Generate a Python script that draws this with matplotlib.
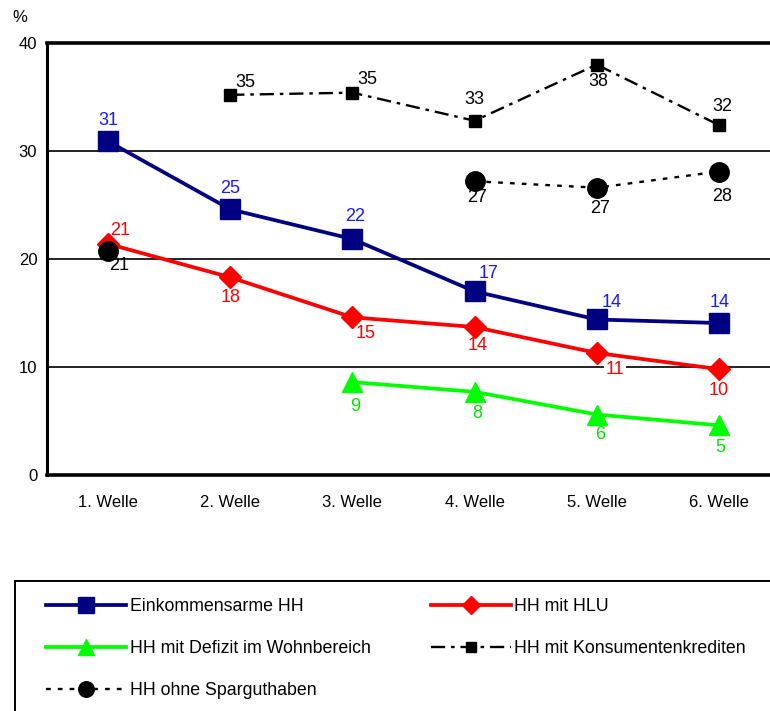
import numpy as np
import matplotlib
matplotlib.use("Agg")
import matplotlib.pyplot as plt
from matplotlib.patches import Rectangle

plt.rcParams['font.family'] = ['Liberation Sans', 'DejaVu Sans']

categories = ["1. Welle", "2. Welle", "3. Welle", "4. Welle", "5. Welle", "6. Welle"]
einkommensarm = [30.9, 24.6, 21.85, 17.0, 14.4, 14.07]
hlu = [21.4, 18.3, 14.6, 13.7, 11.3, 9.8]
defizit = [np.nan, np.nan, 8.6, 7.7, 5.6, 4.6]
konsum = [np.nan, 35.2, 35.4, 32.8, 38.0, 32.4]
spar = [20.7, np.nan, np.nan, 27.2, 26.6, 28.1]
yticks = [0, 10, 20, 30, 40]

W, H = 770, 711
fig = plt.figure(figsize=(W / 100, H / 100), dpi=100)
ax = fig.add_axes([47 / W, (H - 475) / H, (780 - 47) / W, (475 - 43) / H])

x = np.arange(len(categories))

series = [
    dict(y=einkommensarm, color="#000080", lw=2.7, marker="s", ms=14, ls="-",
         label="Einkommensarme HH", tcolor="#1a1aff",
         off=[(0, 21), (0, 21), (3, 23), (14, 18), (15, 17), (1, 21)]),
    dict(y=hlu, color="#ff0000", lw=2.7, marker="D", ms=11.5, ls="-",
         label="HH mit HLU", tcolor="#ff0000",
         off=[(12, 13), (0, -20), (13, -16), (3, -18), (18, -17), (0, -21)]),
    dict(y=defizit, color="#00ff00", lw=2.7, marker="^", ms=15, ls="-",
         label="HH mit Defizit im Wohnbereich", tcolor="#00e600",
         off=[None, None, (3, -24), (3, -22), (3, -20), (1, -22)]),
    dict(y=konsum, color="#000000", lw=1.7, marker="s", ms=9, ls=(0, (6, 2.5, 1.5, 2.5)),
         label="HH mit Konsumentenkrediten", tcolor="#000000",
         off=[None, (15, 12), (15, 13), (0, 21), (2, -17), (3, 19)]),
    dict(y=spar, color="#000000", lw=1.7, marker="o", ms=14, ls=(0, (2, 3)),
         label="HH ohne Sparguthaben", tcolor="#000000",
         off=[(11, -14), None, None, (2, -16), (3, -21), (3, -25)]),
]

handles = {}
for s in series:
    (h,) = ax.plot(x, s["y"], color=s["color"], lw=s["lw"], ls=s["ls"],
                   marker=s["marker"], ms=s["ms"], mec=s["color"], mfc=s["color"],
                   label=s["label"], zorder=3)
    handles[s["label"]] = h
    for xi, yi, o in zip(x, s["y"], s["off"]):
        if o is None or np.isnan(yi):
            continue
        dx, dy = o[0] / 1.389, o[1] / 1.389
        bbox = None
        if s["label"] == "HH mit HLU" and xi == 4:
            bbox = dict(facecolor="white", edgecolor="none", pad=1)
        ax.annotate(f"{yi:.0f}", (xi, yi), xytext=(dx, dy), textcoords="offset points",
                    ha="center", va="center", fontsize=13, color=s["tcolor"],
                    bbox=bbox, zorder=4)

ax.set_xlim(-0.5, 5.5)
ax.set_ylim(0, 40)
ax.set_yticks(yticks)
ax.set_xticks(x)
ax.set_xticklabels(categories)
ax.tick_params(axis="both", length=0, labelsize=12)
ax.tick_params(axis="x", pad=14.5)
ax.tick_params(axis="y", pad=7)
for yv in [10, 20, 30]:
    ax.axhline(yv, color="#222222", lw=1.4, zorder=1)
ax.spines["top"].set_linewidth(2.6)
ax.spines["bottom"].set_linewidth(2.6)
ax.spines["left"].set_linewidth(2.2)
ax.spines["right"].set_visible(False)
fig.text(20 / W, 1 - 18 / H, "%", fontsize=12, ha="center", va="center")

order = ["Einkommensarme HH", "HH mit Defizit im Wohnbereich", "HH ohne Sparguthaben",
         "HH mit HLU", "HH mit Konsumentenkrediten"]
leg = fig.legend([handles[k] for k in order], order, ncol=2, frameon=False,
                 loc="upper left", bbox_to_anchor=(30 / W, 1 - 582 / H),
                 fontsize=12.8, handlelength=4.5, handletextpad=0.2,
                 columnspacing=3.4, labelspacing=1.42, markerscale=0.8)

fig.patches.append(Rectangle((15 / W, 1 - 800 / H), 800 / W, (800 - 581) / H,
                             transform=fig.transFigure, fill=False,
                             edgecolor="black", lw=1.4))

fig.savefig("out.png", dpi=100)
